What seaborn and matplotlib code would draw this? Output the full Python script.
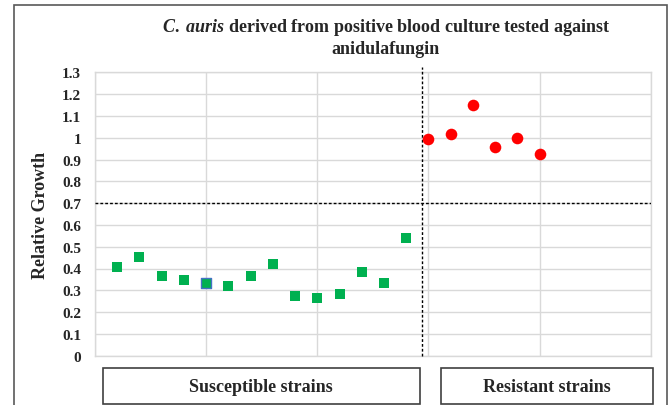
import numpy as np
import pandas as pd
import matplotlib
matplotlib.use("Agg")
import matplotlib.pyplot as plt
import seaborn as sns
from matplotlib.patches import Rectangle

# ---- data ----
susceptible_x = [1, 2, 3, 4, 5, 6, 7, 8, 9, 10, 11, 12, 13, 14]
susceptible_y = [0.407, 0.452, 0.364, 0.345, 0.334, 0.319, 0.364, 0.422,
                 0.272, 0.266, 0.282, 0.386, 0.334, 0.541]
resistant_x = [15, 16, 17, 18, 19, 20]
resistant_y = [0.993, 1.019, 1.148, 0.957, 0.998, 0.926]
cutoff_y = 0.7
divider_x = 14.7
y_ticks = [0, 0.1, 0.2, 0.3, 0.4, 0.5, 0.6, 0.7, 0.8, 0.9, 1.0, 1.1, 1.2, 1.3]
title_italic = r"$\mathit{C.\ auris}$"
title_rest = " derived from positive blood culture tested against"
title_line2 = "anidulafungin"
ylabel = "Relative Growth"
group_labels = ["Susceptible strains", "Resistant strains"]

sns.set_style("white")
plt.rcParams['font.family'] = ['Liberation Serif', 'DejaVu Serif']
plt.rcParams['mathtext.fontset'] = 'custom'
plt.rcParams['mathtext.it'] = 'Liberation Serif:italic:bold'
plt.rcParams['mathtext.rm'] = 'Liberation Serif:bold'

fig = plt.figure(figsize=(6.69, 4.06), dpi=100)
W, H = 669, 406
ax = fig.add_axes([95 / W, (H - 356.7) / H, (650.7 - 95) / W, (356.7 - 73.3) / H])

df_s = pd.DataFrame({"x": susceptible_x, "y": susceptible_y})
df_r = pd.DataFrame({"x": resistant_x, "y": resistant_y})

sns.scatterplot(data=df_s, x="x", y="y", marker="s", s=55, color="#00b050",
                linewidth=0, ax=ax, zorder=4)
sns.scatterplot(data=df_s.iloc[[4]], x="x", y="y", marker="s", s=55, color="#00b050",
                edgecolor="#4472c4", linewidth=1.0, ax=ax, zorder=5)
sns.scatterplot(data=df_r, x="x", y="y", marker="o", s=70, color="#ff0000",
                linewidth=0, ax=ax, zorder=4)

ax.set_xlim(0, 25)
ax.set_ylim(0, 1.3)
ax.set_xticks([0, 5, 10, 15, 20, 25])
ax.set_xticklabels([])
ax.set_yticks(y_ticks)
ax.set_yticklabels([f"{v:g}" for v in y_ticks], fontsize=11, fontweight="bold")
ax.tick_params(axis="both", length=0, pad=10)
ax.grid(True, color="#d9d9d9", linewidth=1.0)
ax.set_axisbelow(True)
for sp in ax.spines.values():
    sp.set_color("#d9d9d9")
    sp.set_linewidth(1.0)
ax.set_xlabel("")
ax.set_ylabel(ylabel, fontsize=13, fontweight="bold", labelpad=9)

ax.axhline(cutoff_y, color="black", linestyle=(0, (2, 1.5)), linewidth=1.0, zorder=3)
ax.axvline(divider_x, ymin=0, ymax=1.02, color="black", linestyle=(0, (2, 1.5)),
           linewidth=1.0, zorder=3, clip_on=False)

# title
fig.text(386 / W, 1 - 28 / H, title_italic + title_rest,
         ha="center", va="center", fontsize=13, fontweight="bold")
fig.text(386 / W, 1 - 49 / H, title_line2, ha="center", va="center",
         fontsize=13, fontweight="bold")

# outer frame
fig.patches.append(Rectangle((14 / W, -0.02), (666.5 - 14) / W, (H - 6) / H + 0.02,
                             transform=fig.transFigure, fill=False,
                             edgecolor="#595959", linewidth=1.2))

# group boxes
boxes = [(102.7, 420.0), (440.7, 653.3)]
for (x0, x1), lab in zip(boxes, group_labels):
    fig.patches.append(Rectangle((x0 / W, (H - 405) / H), (x1 - x0) / W, (405 - 369.3) / H,
                                 transform=fig.transFigure, fill=False,
                                 edgecolor="#404040", linewidth=1.2))
    fig.text((x0 + x1) / 2 / W, 1 - 388 / H, lab, ha="center", va="center",
             fontsize=13, fontweight="bold")

fig.savefig("out.png", dpi=100)
